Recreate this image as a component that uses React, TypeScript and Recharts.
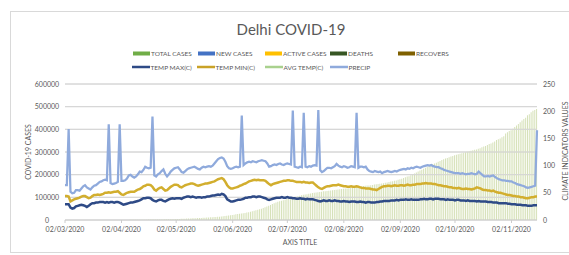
import React from 'react';
import { ComposedChart, Bar, Line, XAxis, YAxis, CartesianGrid, ReferenceLine } from 'recharts';

const FONT = 'Lato, "Open Sans", sans-serif';
const TEXT = '#595959';

// one value per day, 02/03/2020 .. 16/11/2020
const totalCases = [
  // Mar
  1, 1, 1, 3, 3, 3, 3, 4, 4, 5, 6, 7, 7, 7, 8, 10, 12, 17, 17, 26, 27, 29, 30, 31, 36, 39, 39, 49, 72, 120,
  // Apr
  152, 219, 386, 445, 503, 523, 576, 669, 720, 903, 1069, 1154, 1510, 1561, 1578, 1640, 1707, 1893, 2003, 2081,
  2156, 2248, 2376, 2514, 2625, 2918, 3108, 3314, 3439, 3515,
  // May
  3738, 4122, 4549, 4898, 5104, 5532, 5980, 6318, 6542, 6923, 7233, 7639, 7998, 8470, 8895, 9333, 9755, 10054,
  10554, 11088, 11659, 12319, 12910, 13418, 14053, 14465, 15257, 16281, 17386, 18549, 19844,
  // Jun
  20834, 22132, 23645, 25004, 26334, 27654, 28936, 29943, 31309, 32810, 34687, 36824, 38958, 41182, 42829, 44688,
  47102, 49979, 53116, 56746, 59746, 62655, 66602, 70390, 73780, 77240, 80188, 83077, 85161, 87360,
  // Jul
  89802, 92175, 94695, 97200, 99444, 100823, 102831, 104864, 107051, 109140, 110921, 112494, 113740, 115346,
  116993, 118645, 120107, 121582, 122793, 123747, 125096, 126323, 127364, 128389, 129531, 130606, 131219, 132275,
  133310, 134403, 135598,
  // Aug
  136716, 137677, 138482, 139156, 140232, 141531, 142723, 144127, 145427, 146134, 147391, 148504, 149460, 150652,
  151928, 152580, 153367, 154741, 156139, 157354, 158604, 160016, 161466, 162527, 164071, 165764, 167604, 169412,
  171366, 173390, 174748,
  // Sep
  177060, 179569, 182306, 185220, 188193, 191449, 193526, 197135, 201174, 205482, 209748, 214069, 218304, 221533,
  225796, 230269, 234701, 238828, 242899, 246711, 249259, 253075, 256789, 260623, 264450, 267822, 271114, 273098,
  276325, 279715,
  // Oct
  282752, 285672, 288119, 290613, 292560, 294024, 296969, 298833, 300833, 303693, 305853, 307970, 309603, 311516,
  314224, 317054, 321031, 324006, 326323, 331017, 334975, 337904, 341839, 346327, 352520, 356656, 360069, 365083,
  370014, 381644, 386706,
  // Nov
  392370, 396371, 403096, 409938, 416653, 423831, 430784, 438529, 445536, 451382, 462166, 467028, 474830, 482170,
  485405, 489202,
];

const tempMax = [
  29, 29, 29, 23, 21, 22, 25, 26, 27, 28, 27, 26, 24, 26, 29, 31, 31, 32, 32, 33, 33, 33, 32, 33, 32, 33, 33, 32, 33, 33,
  32, 30, 28, 29, 30, 31, 32, 32, 33, 34, 35, 36, 38, 40, 40, 41, 41, 40, 37, 35, 34, 36, 37, 37, 35, 34, 36, 38, 39, 40,
  39, 40, 40, 40, 39, 41, 42, 43, 43, 42, 43, 42, 41, 42, 42, 41, 42, 42, 43, 43, 44, 45, 45, 46, 47, 46, 48, 47, 44, 38, 36,
  34, 34, 35, 36, 37, 37, 38, 39, 41, 41, 42, 42, 43, 43, 42, 43, 43, 42, 41, 40, 38, 37, 38, 39, 40, 41, 41, 41, 42, 41,
  41, 42, 41, 41, 40, 40, 39, 39, 40, 39, 39, 38, 39, 38, 38, 38, 37, 36, 35, 34, 35, 36, 35, 35, 36, 35, 35, 36, 35, 35, 34,
  34, 35, 34, 34, 33, 34, 34, 34, 33, 33, 34, 33, 33, 32, 33, 33, 32, 32, 32, 33, 33, 34, 34, 35, 35, 35, 35, 36, 36, 36, 37,
  36, 37, 37, 37, 38, 37, 37, 38, 37, 37, 37, 37, 38, 38, 39, 38, 38, 39, 39, 38, 39, 39, 39, 38, 38, 38, 37, 38, 37, 37,
  37, 36, 37, 37, 36, 36, 36, 35, 36, 35, 35, 35, 35, 34, 35, 34, 34, 34, 34, 33, 33, 33, 32, 32, 32, 31, 31, 31, 31, 31, 30,
  30, 29, 29, 29, 28, 28, 28, 27, 27, 27, 26, 26, 26, 27, 27, 27,
];

const tempMin = [
  44, 44, 43, 34, 36, 38, 39, 40, 41, 43, 44, 44, 42, 40, 41, 44, 46, 46, 47, 46, 47, 48, 50, 50, 51, 50, 51, 52, 52, 53,
  50, 47, 46, 48, 50, 51, 52, 52, 52, 54, 56, 57, 59, 62, 63, 65, 65, 64, 61, 56, 54, 57, 59, 60, 57, 54, 55, 58, 61, 63,
  65, 65, 64, 61, 60, 62, 64, 65, 66, 67, 67, 66, 64, 63, 64, 65, 66, 67, 67, 68, 69, 70, 71, 73, 75, 76, 77, 75, 70, 64, 60,
  58, 58, 59, 60, 61, 63, 64, 66, 67, 69, 71, 72, 73, 74, 73, 74, 73, 73, 73, 72, 69, 66, 64, 66, 67, 68, 69, 70, 71, 72,
  72, 73, 73, 72, 72, 71, 70, 70, 70, 69, 70, 69, 69, 68, 69, 69, 66, 63, 60, 58, 57, 59, 61, 62, 62, 63, 64, 64, 64, 65, 64,
  63, 62, 62, 61, 61, 62, 61, 61, 62, 61, 60, 59, 59, 58, 58, 58, 57, 56, 56, 55, 57, 59, 61, 62, 62, 63, 63, 62, 63, 64, 63,
  63, 64, 64, 63, 64, 65, 64, 64, 65, 65, 66, 66, 66, 67, 67, 68, 67, 67, 67, 66, 66, 65, 64, 64, 63, 62, 62, 61, 60, 60,
  59, 59, 58, 59, 58, 57, 57, 58, 57, 57, 56, 57, 58, 60, 59, 58, 56, 55, 55, 54, 54, 53, 54, 52, 51, 50, 50, 49, 48, 47, 46,
  46, 45, 44, 44, 43, 43, 42, 42, 41, 40, 40, 41, 42, 42, 43, 43,
];

const precip = [
  64, 64, 167, 52, 49, 50, 55, 55, 54, 58, 62, 64, 60, 58, 56, 60, 63, 64, 67, 70, 71, 73, 74, 73, 176, 68, 66, 67, 68, 70,
  176, 72, 72, 73, 76, 82, 83, 80, 78, 80, 84, 89, 88, 92, 98, 96, 95, 96, 190, 82, 80, 84, 86, 90, 93, 85, 80, 84, 89, 92,
  95, 96, 97, 93, 88, 87, 90, 93, 95, 96, 97, 98, 96, 94, 93, 96, 98, 97, 98, 99, 98, 100, 104, 108, 112, 114, 115, 113, 107, 99, 95,
  94, 95, 97, 98, 97, 98, 192, 101, 104, 106, 107, 106, 108, 107, 106, 108, 109, 110, 109, 108, 104, 98, 99, 101, 102, 101, 103, 104, 102, 101,
  103, 104, 103, 102, 201, 98, 97, 96, 98, 97, 197, 98, 97, 99, 98, 100, 101, 100, 202, 92, 88, 90, 93, 96, 96, 95, 97, 99, 103, 100, 98,
  97, 99, 98, 96, 97, 99, 98, 97, 197, 96, 98, 98, 97, 98, 93, 90, 89, 88, 90, 89, 88, 89, 86, 88, 89, 90, 89, 88, 89, 90, 89,
  91, 92, 93, 94, 93, 95, 94, 96, 95, 97, 98, 97, 96, 98, 99, 100, 101, 100, 101, 99, 98, 97, 97, 95, 94, 92, 91, 90, 89, 88,
  87, 86, 86, 86, 85, 86, 85, 84, 85, 85, 86, 85, 84, 85, 89, 86, 83, 80, 80, 81, 80, 81, 82, 79, 77, 75, 74, 73, 73, 72, 72,
  71, 71, 69, 68, 66, 65, 64, 63, 62, 60, 59, 60, 61, 62, 63, 165,
];

// days since 02/03/2020 where the monthly labels sit
const tickDays = [0, 31, 61, 92, 122, 153, 184, 214, 245];
const tickLabels = ['02/03/2020', '02/04/2020', '02/05/2020', '02/06/2020', '02/07/2020', '02/08/2020', '02/09/2020', '02/10/2020', '02/11/2020'];
const leftTicks = [0, 100000, 200000, 300000, 400000, 500000, 600000];
const rightTicks = [0, 50, 100, 150, 200, 250];

const barLegend = [
  { name: 'TOTAL CASES', color: '#70AD47', x: 133 },
  { name: 'NEW CASES', color: '#4472C4', x: 198 },
  { name: 'ACTIVE CASES', color: '#FFC000', x: 265 },
  { name: 'DEATHS', color: '#375623', x: 330 },
  { name: 'RECOVERS', color: '#7F6000', x: 398 },
];
const lineLegend = [
  { name: 'TEMP MAX(C)', color: '#2E4A86', x: 132 },
  { name: 'TEMP MIN(C)', color: '#C9A227', x: 197 },
  { name: 'AVG TEMP(C)', color: '#A9D18E', x: 265 },
  { name: 'PRECIP', color: '#8FAADC', x: 330 },
];

const data = tempMax.map((_, i) => ({
  day: i,
  total: totalCases[i],
  tmax: tempMax[i],
  tmin: tempMin[i],
  precip: precip[i],
}));

const LeftTick = (props: any) => (
  <text x={47} y={props.y} dy={2.5} textAnchor="middle" fontSize={7} fill={TEXT} fontFamily={FONT}>
    {props.payload.value}
  </text>
);

const RightTick = (props: any) => (
  <text x={543} y={props.y} dy={2.5} textAnchor="start" fontSize={7} fill={TEXT} fontFamily={FONT}>
    {props.payload.value}
  </text>
);

export default function App() {
  return (
    <div style={{ position: 'absolute', left: 0, top: 0, width: 569, height: 255, background: '#fff' }}>
      <ComposedChart
        width={569}
        height={255}
        data={data}
        margin={{ top: 84, right: 0, bottom: 0, left: 8 }}
      >
        <XAxis
          dataKey="day"
          type="number"
          domain={[0, 259]}
          ticks={tickDays}
          interval={0}
          height={35}
          tickFormatter={(v: number) => tickLabels[tickDays.indexOf(v)]}
          tick={{ fontSize: 7, fill: TEXT, fontFamily: FONT }}
          axisLine={{ stroke: '#cccccc' }}
          tickLine={{ stroke: '#cccccc' }}
          tickSize={3}
          tickMargin={4}
        />
        <YAxis
          domain={[0, 600000]}
          ticks={leftTicks}
          interval={0}
          width={57}
          axisLine={false}
          tickLine={false}
          tick={LeftTick}
        />
        <YAxis
          yAxisId="right"
          orientation="right"
          domain={[0, 250]}
          ticks={rightTicks}
          interval={0}
          width={32}
          axisLine={false}
          tickLine={false}
          tick={RightTick}
        />
        <CartesianGrid vertical={false} stroke="#d6d6d6" strokeDasharray="" />
        {leftTicks.slice(1).map((v) => (
          <ReferenceLine key={v} y={v} stroke="#d6d6d6" ifOverflow="visible" />
        ))}
        <Bar dataKey="total" fill="#d6e1b8" barSize={1} isAnimationActive={false} />
        <Line yAxisId="right" dataKey="tmax" stroke="#2E4A86" strokeWidth={2.5} dot={false} isAnimationActive={false} />
        <Line yAxisId="right" dataKey="tmin" stroke="#D2AE2E" strokeWidth={2.5} dot={false} isAnimationActive={false} />
        <Line yAxisId="right" dataKey="precip" stroke="#8FAADC" strokeWidth={2.25} dot={false} isAnimationActive={false} />
      </ComposedChart>

      <svg width={569} height={255} style={{ position: 'absolute', left: 0, top: 0, pointerEvents: 'none' }}>
        <rect x={10.5} y={11.5} width={570} height={241} fill="none" stroke="#d9d9d9" />
        <text x={291} y={35} textAnchor="middle" fontSize={15} fill={TEXT} fontFamily={FONT}>
          Delhi COVID-19
        </text>
        {barLegend.map((it) => (
          <g key={it.name}>
            <rect x={it.x} y={51.5} width={17} height={4} fill={it.color} />
            <text x={it.x + 18} y={56} fontSize={6.5} fill={TEXT} fontFamily={FONT}>{it.name}</text>
          </g>
        ))}
        {lineLegend.map((it) => (
          <g key={it.name}>
            <line x1={it.x} x2={it.x + 18} y1={67} y2={67} stroke={it.color} strokeWidth={2.5} />
            <text x={it.x + 18.5} y={69.5} fontSize={6.5} fill={TEXT} fontFamily={FONT}>{it.name}</text>
          </g>
        ))}
        <text x={28} y={152} transform="rotate(-90 28 152)" textAnchor="middle" dy={2.5} fontSize={7} fill={TEXT} fontFamily={FONT}>
          COVID-19 CASES
        </text>
        <text x={565} y={151} transform="rotate(-90 565 151)" textAnchor="middle" dy={2.5} fontSize={7} fill={TEXT} fontFamily={FONT}>
          CLIMATE INDICATORS VALUES
        </text>
        <text x={300} y={244.5} textAnchor="middle" fontSize={7} fill={TEXT} fontFamily={FONT}>
          AXIS TITLE
        </text>
      </svg>
    </div>
  );
}
